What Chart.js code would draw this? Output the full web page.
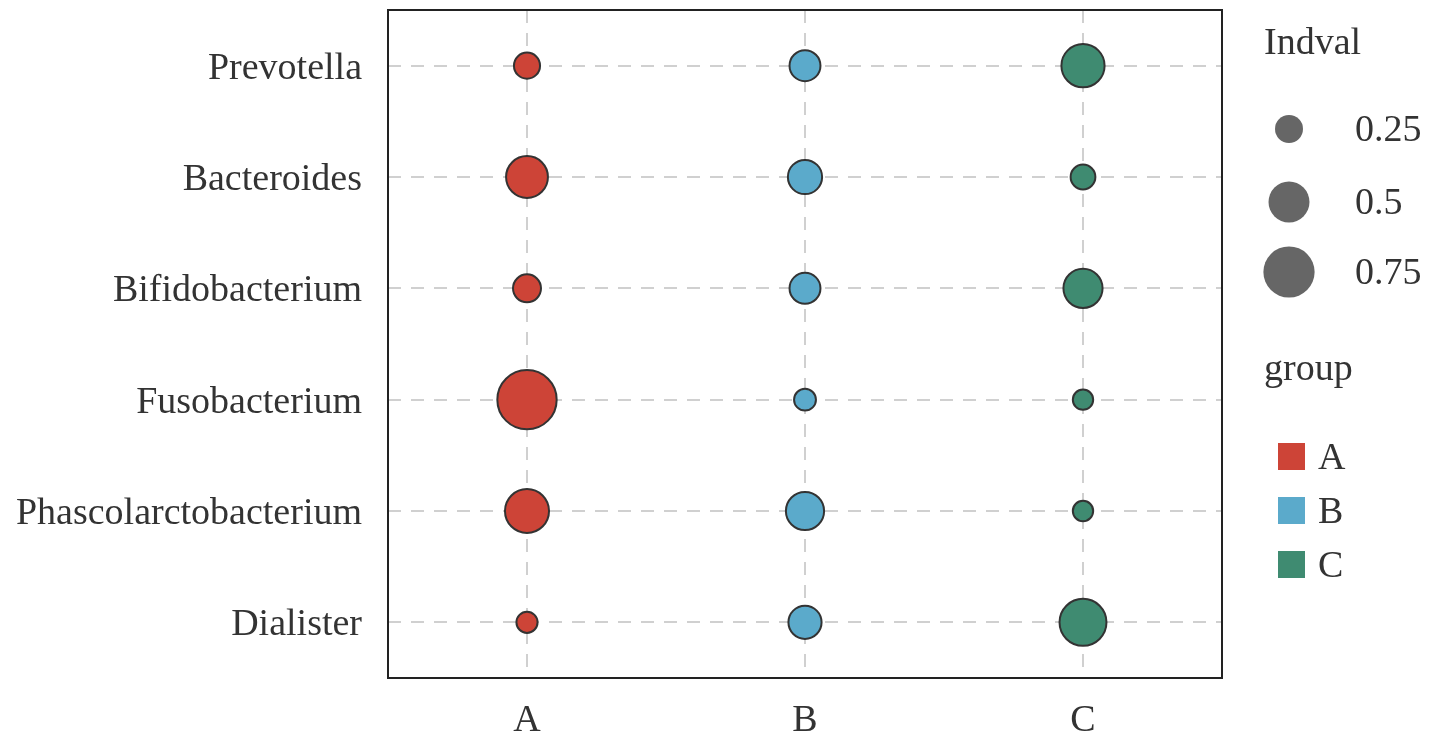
<!DOCTYPE html>
<html>
<head>
<meta charset="utf-8">
<script src="https://cdn.jsdelivr.net/npm/chart.js@4.4.1/dist/chart.umd.min.js"></script>
<style>
  html, body { margin: 0; padding: 0; background: #fff; }
  #wrap { width: 1429px; height: 737px; }
</style>
</head>
<body>
<div id="wrap"><canvas id="chart" width="1429" height="737"></canvas></div>
<script>
const genera = ['Prevotella', 'Bacteroides', 'Bifidobacterium', 'Fusobacterium', 'Phascolarctobacterium', 'Dialister'];
const groups = ['A', 'B', 'C'];
const indvalA = [0.22, 0.52, 0.25, 0.98, 0.57, 0.15];
const indvalB = [0.30, 0.36, 0.30, 0.16, 0.44, 0.34];
const indvalC = [0.55, 0.20, 0.46, 0.14, 0.14, 0.64];
const legendSizes = [0.25, 0.5, 0.75];

const groupColors = ['#CD4437', '#5BAACB', '#3F8B71'];
const FONT = '"Liberation Serif", "Times New Roman", serif';

// bubble radius in pixels from Indval
function sizeOf(v) {
    return 30 * Math.pow(v, 0.55);
}

function makeDataset(name, values, color) {
    return {
        label: name,
        data: values.map((v, i) => ({ x: groups.indexOf(name) + 1, y: i + 1, r: sizeOf(v) })),
        backgroundColor: color,
        borderColor: '#333333',
        borderWidth: 2
    };
}

const framePlugin = {
    id: 'frame',
    afterDraw(chart) {
        const { ctx, chartArea: a } = chart;
        ctx.save();
        ctx.strokeStyle = '#222222';
        ctx.lineWidth = 2;
        ctx.strokeRect(a.left, a.top, a.right - a.left, a.bottom - a.top);
        ctx.restore();
    }
};

const sideLegend = {
    id: 'sideLegend',
    afterDraw(chart) {
        const ctx = chart.ctx;
        ctx.save();
        ctx.font = '38px ' + FONT;
        ctx.fillStyle = '#333333';
        ctx.textBaseline = 'middle';
        ctx.textAlign = 'left';
        ctx.fillText('Indval', 1264, 44);

        const sizeY = [129, 202, 272];
        legendSizes.forEach((v, i) => {
            ctx.beginPath();
            ctx.fillStyle = '#666666';
            ctx.arc(1289, sizeY[i], sizeOf(v), 0, Math.PI * 2);
            ctx.fill();
            ctx.fillStyle = '#333333';
            ctx.fillText(String(v), 1355, sizeY[i] + 2);
        });

        ctx.fillText('group', 1264, 370);
        const boxY = [457, 511, 565];
        groups.forEach((g, i) => {
            ctx.fillStyle = groupColors[i];
            ctx.fillRect(1278, boxY[i] - 14, 27, 27);
            ctx.fillStyle = '#333333';
            ctx.fillText(g, 1318, boxY[i] + 2);
        });
        ctx.restore();
    }
};

const ctx = document.getElementById('chart').getContext('2d');
new Chart(ctx, {
    type: 'bubble',
    data: {
        datasets: [
            makeDataset('A', indvalA, groupColors[0]),
            makeDataset('B', indvalB, groupColors[1]),
            makeDataset('C', indvalC, groupColors[2])
        ]
    },
    options: {
        responsive: false,
        animation: false,
        events: [],
        layout: { autoPadding: false, padding: { top: 10, right: 207, left: 0, bottom: 0 } },
        plugins: {
            legend: { display: false },
            tooltip: { enabled: false }
        },
        scales: {
            x: {
                type: 'linear',
                min: 0.5,
                max: 3.5,
                afterBuildTicks: axis => { axis.ticks = groups.map((g, i) => ({ value: i + 1 })); },
                afterFit: axis => {
                    axis.height = 59;
                    axis.paddingLeft = 0;
                    axis.paddingRight = 0;
                },
                border: { display: false, dash: [13, 10] },
                grid: { color: '#d0d0d0', lineWidth: 2, drawTicks: false },
                ticks: {
                    padding: 20,
                    color: '#333333',
                    font: { family: FONT, size: 38 },
                    callback: v => groups[v - 1] || ''
                }
            },
            y: {
                type: 'linear',
                min: 0.5,
                max: 6.5,
                reverse: true,
                afterBuildTicks: axis => { axis.ticks = genera.map((g, i) => ({ value: i + 1 })); },
                afterFit: axis => {
                    axis.width = 388;
                    axis.paddingTop = 0;
                    axis.paddingBottom = 0;
                },
                border: { display: false, dash: [13, 10] },
                grid: { color: '#d0d0d0', lineWidth: 2, drawTicks: false },
                ticks: {
                    padding: 26,
                    labelOffset: 3,
                    color: '#333333',
                    font: { family: FONT, size: 38 },
                    callback: v => genera[v - 1] || ''
                }
            }
        }
    },
    plugins: [framePlugin, sideLegend]
});
</script>
</body>
</html>
